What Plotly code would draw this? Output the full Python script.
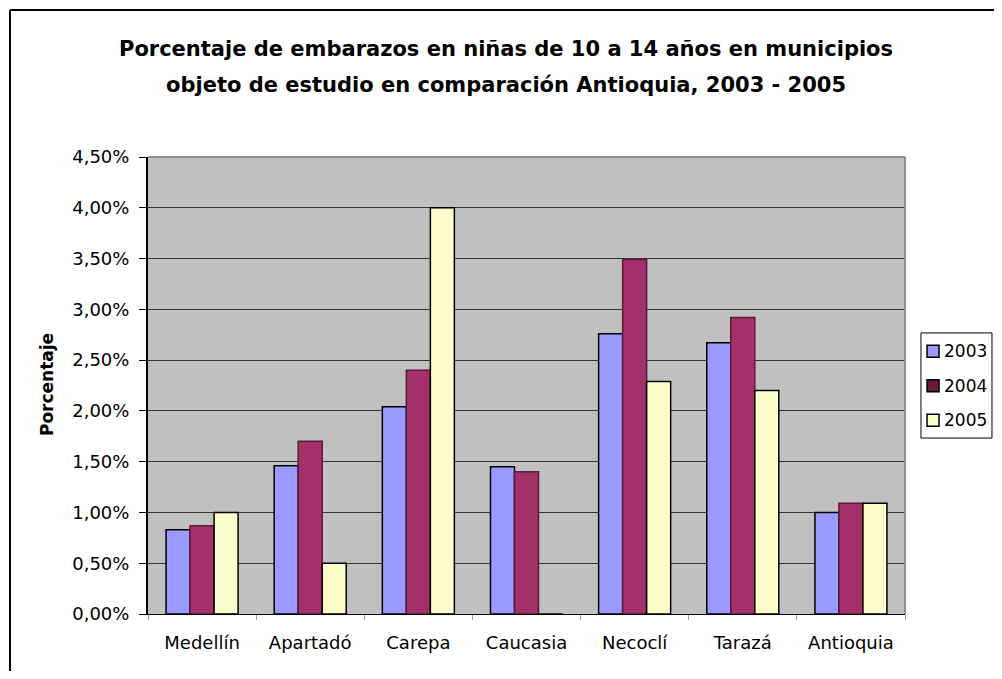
import plotly.graph_objects as go

# datos
municipios = ["Medellín", "Apartadó", "Carepa", "Caucasia", "Necoclí", "Tarazá", "Antioquia"]
anios = ["2003", "2004", "2005"]
v2003 = [0.83, 1.46, 2.04, 1.45, 2.76, 2.67, 1.00]
v2004 = [0.87, 1.70, 2.40, 1.40, 3.49, 2.92, 1.09]
v2005 = [1.00, 0.50, 4.00, 0.00, 2.29, 2.20, 1.09]
tick_vals = [0, 0.5, 1.0, 1.5, 2.0, 2.5, 3.0, 3.5, 4.0, 4.5]
tick_text = ["0,00%", "0,50%", "1,00%", "1,50%", "2,00%", "2,50%", "3,00%", "3,50%", "4,00%", "4,50%"]

colores = ["#9999FF", "#A3306A", "#FFFFCC"]
bordes = ["#000000", "#5A1A3A", "#000000"]
legend_sym = ["#9999FF", "#6A1A40", "#FFFFCC"]

FONT = "DejaVu Sans, Liberation Sans, Arial"

fig = go.Figure()
for anio, vals, c, b in zip(anios, [v2003, v2004, v2005], colores, bordes):
    fig.add_trace(go.Bar(
        x=municipios, y=vals, name=anio, showlegend=False,
        marker=dict(color=c, line=dict(color=b, width=1.5)),
    ))

fig.update_layout(
    width=994, height=663,
    paper_bgcolor="white", plot_bgcolor="#C0C0C0",
    margin=dict(l=140, r=97, t=149, b=57, autoexpand=False),
    font=dict(family=FONT, color="black", size=18),
    barmode="group", bargap=0.334, bargroupgap=0,
    showlegend=False,
)

# título en dos líneas
titulo = ["Porcentaje de embarazos en niñas de 10 a 14 años en municipios",
          "objeto de estudio en comparación Antioquia, 2003 - 2005"]
for linea, yy in zip(titulo, [1.236, 1.158]):
    fig.add_annotation(text="<b>%s</b>" % linea, xref="paper", yref="paper",
                       x=0.473, y=yy, xanchor="center", yanchor="middle",
                       showarrow=False,
                       font=dict(size=21, family=FONT, color="black"))

# título del eje y
fig.add_annotation(text="<b>Porcentaje</b>", xref="paper", yref="paper",
                   x=-0.1334, y=0.501, textangle=-90, showarrow=False,
                   xanchor="center", yanchor="middle",
                   font=dict(size=17, family=FONT, color="black"))

fig.update_yaxes(
    range=[0, 4.5], tickvals=tick_vals, ticktext=tick_text,
    showgrid=True, gridcolor="#333333", gridwidth=1,
    showline=True, linecolor="black", linewidth=2,
    ticks="outside", ticklen=7, tickcolor="black",
    ticklabelstandoff=6, zeroline=False,
)
fig.update_xaxes(
    showline=True, linecolor="black", linewidth=1,
    ticks="outside", ticklen=5, tickcolor="#999999", tickson="boundaries",
    ticklabelstandoff=12, showgrid=False,
)

# borde gris del área de trazado (arriba y derecha)
fig.add_shape(type="line", xref="paper", yref="paper", x0=0, x1=1, y0=1, y1=1,
              line=dict(color="#909090", width=2))
fig.add_shape(type="line", xref="paper", yref="paper", x0=1, x1=1, y0=0, y1=1,
              line=dict(color="#909090", width=2))
# borde del gráfico (arriba e izquierda)
fig.add_shape(type="line", xref="paper", yref="paper",
              x0=-0.1823, x1=1.2, y0=1.3217, y1=1.3217, line=dict(color="black", width=2))
fig.add_shape(type="line", xref="paper", yref="paper",
              x0=-0.1823, x1=-0.1823, y0=1.3217, y1=-0.2, line=dict(color="black", width=2))

# leyenda
fig.add_shape(type="rect", xref="paper", yref="paper",
              x0=1.0211, x1=1.1149, y0=0.385, y1=0.615,
              line=dict(color="black", width=1), fillcolor="white")
sq_w = 12 / 757
sq_h = 12 / 457
for i, (anio, c) in enumerate(zip(anios, legend_sym)):
    yc = 0.575 - i * 0.0755
    fig.add_shape(type="rect", xref="paper", yref="paper",
                  x0=1.0291, x1=1.0291 + sq_w, y0=yc - sq_h / 2, y1=yc + sq_h / 2,
                  line=dict(color="black", width=1.5), fillcolor=c)
    fig.add_annotation(text=anio, xref="paper", yref="paper",
                       x=1.0488, y=yc, xanchor="left", yanchor="middle",
                       showarrow=False, font=dict(size=17, family=FONT, color="black"))

fig.write_html("out.html")
